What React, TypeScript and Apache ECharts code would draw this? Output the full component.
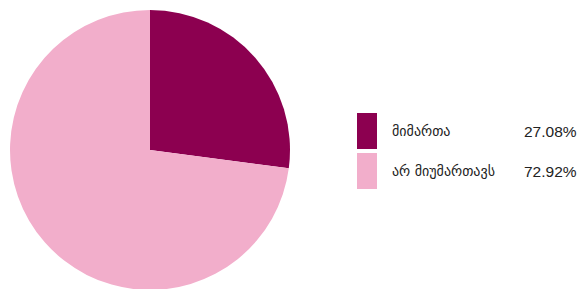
import React, { useEffect, useRef } from "react";
import * as echarts from "echarts";

const categories = ["მიმართა", "არ მიუმართავს"];
const values = [27.08, 72.92];
const colors = ["#8c0050", "#f2aecb"];

export default function App() {
  const ref = useRef<HTMLDivElement>(null);
  useEffect(() => {
    if (!ref.current) return;
    const chart = echarts.init(ref.current, undefined, { renderer: "svg" });
    chart.setOption({
      animation: false,
      color: colors,
      legend: {
        orient: "vertical",
        left: 357,
        top: 113,
        itemWidth: 20,
        itemHeight: 36,
        itemGap: 4,
        icon: "rect",
        padding: 0,
        selectedMode: false,
        textStyle: {
          color: "#222",
          fontFamily: "Liberation Sans, DejaVu Sans, sans-serif",
          fontSize: 15,
          rich: {
            n: { width: 132, padding: [0, 0, 0, 10], fontSize: 14, fontFamily: "DejaVu Sans, sans-serif", color: "#222" },
            p: { fontSize: 15.5, fontFamily: "Liberation Sans, sans-serif", color: "#222" },
          },
        },
        formatter: (name: string) => {
          const i = categories.indexOf(name);
          return `{n|${name}}{p|${values[i].toFixed(2)}%}`;
        },
        data: categories,
      },
      series: [
        {
          type: "pie",
          center: [150, 150],
          radius: 140,
          startAngle: 90,
          clockwise: true,
          label: { show: false },
          labelLine: { show: false },
          emphasis: { disabled: true },
          itemStyle: { borderWidth: 0 },
          data: categories.map((c, i) => ({ name: c, value: values[i] })),
        },
      ],
    });
    return () => chart.dispose();
  }, []);
  return <div ref={ref} style={{ width: 577, height: 289, position: "absolute", left: 0, top: 0 }} />;
}
